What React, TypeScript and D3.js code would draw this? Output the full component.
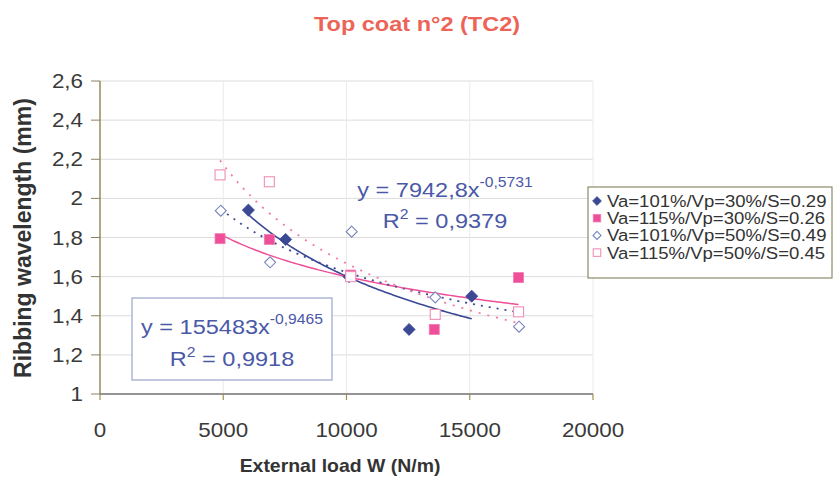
import React from "react";
import * as d3 from "d3";

const W = 838;
const H = 477;

const xTicks = [0, 5000, 10000, 15000, 20000];
const xTickLabels = ["0", "5000", "10000", "15000", "20000"];
const yTicks = [1, 1.2, 1.4, 1.6, 1.8, 2, 2.2, 2.4, 2.6];
const yTickLabels = ["1", "1,2", "1,4", "1,6", "1,8", "2", "2,2", "2,4", "2,6"];

const seriesNames = [
  "Va=101%/Vp=30%/S=0.29",
  "Va=115%/Vp=30%/S=0.26",
  "Va=101%/Vp=50%/S=0.49",
  "Va=115%/Vp=50%/S=0.45",
];

const s1X = [6020, 7530, 10100, 12540, 15080];
const s1Y = [1.94, 1.79, 1.6, 1.33, 1.5];
const s2X = [4870, 6870, 10170, 13560, 16980];
const s2Y = [1.794, 1.79, 1.608, 1.33, 1.595];
const s3X = [4900, 6900, 10210, 13600, 17000];
const s3Y = [1.937, 1.673, 1.83, 1.494, 1.344];
const s4X = [4870, 6870, 10170, 13600, 16980];
const s4Y = [2.12, 2.085, 1.6, 1.407, 1.42];

const eqUpper = { base: "y = 7942,8x", exp: "-0,5731", r2: "0,9379" };
const eqLower = { base: "y = 155483x", exp: "-0,9465", r2: "0,9918" };

const FONT = "'Liberation Sans', Arial, Helvetica, sans-serif";
const DARK = "#3b4894";
const PINK = "#ee4f98";
const EQ = "#4a58a8";

const x = d3.scaleLinear().domain([0, 20000]).range([100, 593]);
const y = d3.scaleLinear().domain([1, 2.6]).range([394, 81]);

function powerFit(xs: number[], ys: number[]) {
  const lx = xs.map(Math.log);
  const ly = ys.map(Math.log);
  const mx = d3.mean(lx)!;
  const my = d3.mean(ly)!;
  let sxy = 0, sxx = 0;
  lx.forEach((v, i) => {
    sxy += (v - mx) * (ly[i] - my);
    sxx += (v - mx) * (v - mx);
  });
  const b = sxy / sxx;
  const a = Math.exp(my - b * mx);
  const x0 = d3.min(xs)!;
  const x1 = d3.max(xs)!;
  const pts = d3.range(101).map((i) => {
    const xv = x0 + ((x1 - x0) * i) / 100;
    return [xv, a * Math.pow(xv, b)] as [number, number];
  });
  return pts;
}

const line = d3
  .line<[number, number]>()
  .x((d) => x(d[0]))
  .y((d) => y(d[1]));

function SText(props: any) {
  const { x: tx, y: ty, sx = 1.12, children, ...rest } = props;
  return (
    <text transform={`translate(${tx},${ty}) scale(${sx},1)`} fontFamily={FONT} {...rest}>
      {children}
    </text>
  );
}

function Marker({ kind, cx, cy, s }: { kind: number; cx: number; cy: number; s: number }) {
  if (kind === 0) {
    const r = s * 0.55;
    return (
      <path d={`M${cx},${cy - r}L${cx + r},${cy}L${cx},${cy + r}L${cx - r},${cy}Z`} fill={DARK} stroke={DARK} strokeWidth={0.8} />
    );
  }
  if (kind === 1) {
    const h = s * 0.5;
    return <rect x={cx - h} y={cy - h} width={2 * h} height={2 * h} fill={PINK} stroke="#f07ab0" strokeWidth={0.8} />;
  }
  if (kind === 2) {
    const r = s * 0.5;
    return (
      <path d={`M${cx},${cy - r}L${cx + r},${cy}L${cx},${cy + r}L${cx - r},${cy}Z`} fill="#fff" stroke="#7584bd" strokeWidth={1.1} />
    );
  }
  const h = s * 0.5;
  return <rect x={cx - h} y={cy - h} width={2 * h} height={2 * h} fill="#fff" stroke="#ef8fb8" strokeWidth={1.1} />;
}

export default function App() {
  const series = [
    { xs: s1X, ys: s1Y },
    { xs: s2X, ys: s2Y },
    { xs: s3X, ys: s3Y },
    { xs: s4X, ys: s4Y },
  ];
  const fits = series.map((s) => powerFit(s.xs, s.ys));
  const trendStyles = [
    { stroke: DARK, dash: undefined, w: 1.6 },
    { stroke: PINK, dash: undefined, w: 1.5 },
    { stroke: "#3e4c94", dash: "2,6", w: 1.8 },
    { stroke: "#f07aa8", dash: "2,7", w: 1.8 },
  ];

  return (
    <svg width={W} height={H} style={{ position: "absolute", left: 0, top: 0, background: "#fff" }}>
      <rect x={0} y={0} width={W} height={H} fill="#fff" />
      {/* title */}
      <SText x={417} y={31} textAnchor="middle" fontSize={21} fontWeight="bold" fill="#ec6457">
        Top coat n°2 (TC2)
      </SText>

      {/* gridlines */}
      {yTicks.slice(1).map((t) => (
        <line key={"gy" + t} x1={100} x2={593} y1={y(t)} y2={y(t)} stroke="#dcdcdc" strokeWidth={1} />
      ))}
      {xTicks.slice(1).map((t) => (
        <line key={"gx" + t} x1={x(t)} x2={x(t)} y1={81} y2={394} stroke="#ebebe4" strokeWidth={1} />
      ))}

      {/* axes */}
      <line x1={100} x2={100} y1={81} y2={394} stroke="#9a8a5a" strokeWidth={1.5} />
      <line x1={100} x2={593} y1={394} y2={394} stroke="#707070" strokeWidth={1.5} />
      {yTicks.map((t) => (
        <line key={"ty" + t} x1={91} x2={100} y1={y(t)} y2={y(t)} stroke="#8a8060" strokeWidth={1} />
      ))}
      {xTicks.map((t) => (
        <line key={"tx" + t} x1={x(t)} x2={x(t)} y1={394} y2={400} stroke="#a09050" strokeWidth={1.2} />
      ))}
      {yTicks.map((t, i) => (
        <SText key={"ly" + t} x={83} y={y(t) + 7} textAnchor="end" fontSize={20} fill="#3a3a3a">
          {yTickLabels[i]}
        </SText>
      ))}
      {xTicks.map((t, i) => (
        <SText key={"lx" + t} x={x(t)} y={437} textAnchor="middle" fontSize={20} fill="#3a3a3a">
          {xTickLabels[i]}
        </SText>
      ))}

      {/* axis titles */}
      <SText x={340} y={472} textAnchor="middle" sx={1.08} fontSize={18} fontWeight="bold" fill="#333">
        External load W (N/m)
      </SText>
      <text
        transform={`translate(31,238) rotate(-90)`}
        textAnchor="middle"
        fontFamily={FONT}
        fontSize={23}
        fontWeight="bold"
        fill="#333"
      >
        Ribbing wavelength (mm)
      </text>

      {/* trendlines */}
      {fits.map((f, i) => (
        <path
          key={"fit" + i}
          d={line(f) || ""}
          fill="none"
          stroke={trendStyles[i].stroke}
          strokeWidth={trendStyles[i].w}
          strokeDasharray={trendStyles[i].dash}
        />
      ))}

      {/* points */}
      {series.map((s, k) =>
        s.xs.map((xv, i) => (
          <Marker key={`m${k}-${i}`} kind={k} cx={x(xv)} cy={y(s.ys[i])} s={k === 0 ? 11 : k === 2 ? 11 : 10} />
        ))
      )}

      {/* upper equation */}
      <SText x={445} y={197} textAnchor="middle" fontSize={21} fill={EQ}>
        {eqUpper.base}
        <tspan fontSize={14} dy={-10}>{eqUpper.exp}</tspan>
      </SText>
      <SText x={445} y={228} textAnchor="middle" fontSize={21} fill={EQ}>
        R<tspan fontSize={14} dy={-9}>2</tspan>
        <tspan dy={9}> = {eqUpper.r2}</tspan>
      </SText>

      {/* lower equation box */}
      <rect x={132} y={298} width={200} height={82} fill="#fff" stroke="#9aa4cc" strokeWidth={1.2} />
      <SText x={232} y={334} textAnchor="middle" fontSize={21} fill={EQ}>
        {eqLower.base}
        <tspan fontSize={14} dy={-10}>{eqLower.exp}</tspan>
      </SText>
      <SText x={232} y={366} textAnchor="middle" fontSize={21} fill={EQ}>
        R<tspan fontSize={14} dy={-9}>2</tspan>
        <tspan dy={9}> = {eqLower.r2}</tspan>
      </SText>

      {/* legend */}
      <rect x={588} y={187} width={244} height={91} fill="#fff" stroke="#8a8a6a" strokeWidth={1.2} />
      {seriesNames.map((n, i) => (
        <g key={"lg" + i}>
          <Marker kind={i} cx={597} cy={201 + i * 17.2} s={i === 0 ? 8 : i === 2 ? 8 : 7.5} />
          <SText x={607} y={207 + i * 17.2} sx={1.09} fontSize={17} fill="#333">
            {n}
          </SText>
        </g>
      ))}
    </svg>
  );
}
